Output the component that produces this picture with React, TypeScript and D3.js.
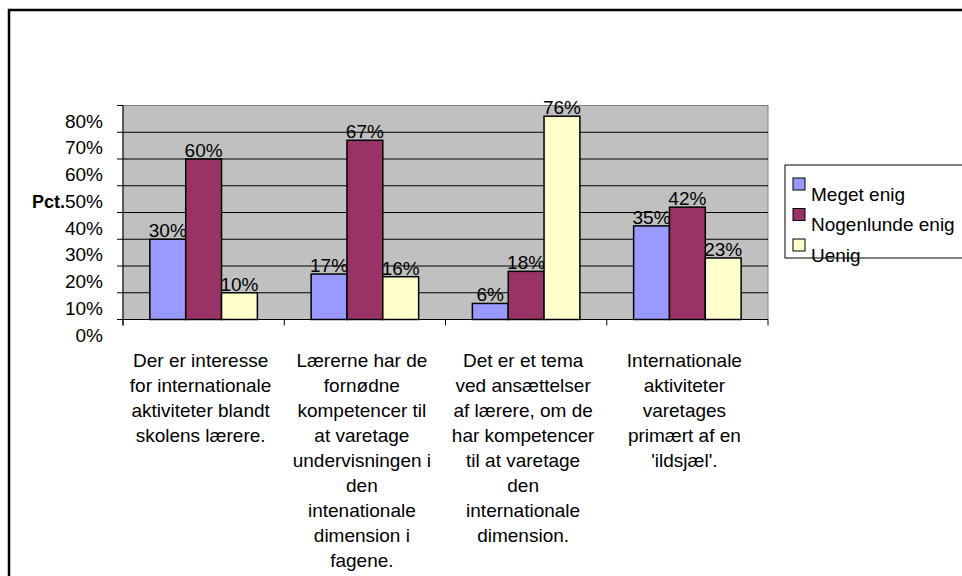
import React, { useEffect, useRef } from 'react'
import * as d3 from 'd3'

const categories = [
  ['Der er interesse', 'for internationale', 'aktiviteter blandt', 'skolens lærere.'],
  ['Lærerne har de', 'fornødne', 'kompetencer til', 'at varetage', 'undervisningen i', 'den', 'intenationale', 'dimension i', 'fagene.'],
  ['Det er et tema', 'ved ansættelser', 'af lærere, om de', 'har kompetencer', 'til at varetage', 'den', 'internationale', 'dimension.'],
  ['Internationale', 'aktiviteter', 'varetages', 'primært af en', "'ildsjæl'."],
]

const seriesNames = ['Meget enig', 'Nogenlunde enig', 'Uenig']
const seriesColors = ['#9999FF', '#993366', '#FFFFCC']

const megetEnig = [30, 17, 6, 35]
const nogenlundeEnig = [60, 67, 18, 42]
const uenig = [10, 16, 76, 23]
const seriesValues = [megetEnig, nogenlundeEnig, uenig]

const yTicks = [0, 10, 20, 30, 40, 50, 60, 70, 80]

const font = 'Arial, "Liberation Sans", sans-serif'
const fontSize = 19

export default function App() {
  const svgRef = useRef<SVGSVGElement>(null)

  useEffect(() => {
    if (!svgRef.current) return
    const svg = d3.select(svgRef.current)
    svg.selectAll('*').remove()

    const left = 123
    const right = 768
    const top = 105.5
    const bottom = 319.5

    // outer chart border
    svg.append('rect')
      .attr('x', 9).attr('y', 10)
      .attr('width', 1000).attr('height', 700)
      .attr('fill', 'white')
      .attr('stroke', 'black')
      .attr('stroke-width', 2.5)

    const x = d3.scaleBand<number>()
      .domain(d3.range(categories.length))
      .range([left, right])
      .paddingInner(0)
      .paddingOuter(0)

    const xInner = d3.scaleBand<number>()
      .domain(d3.range(seriesNames.length))
      .range([0, x.bandwidth()])
      .paddingInner(0)
      .paddingOuter(0.75)

    const y = d3.scaleLinear().domain([0, 80]).range([bottom, top])

    // plot area
    svg.append('rect')
      .attr('x', left).attr('y', top)
      .attr('width', right - left).attr('height', bottom - top)
      .attr('fill', '#C0C0C0')
      .attr('stroke', '#808080')
      .attr('stroke-width', 1)

    svg.append('g')
      .selectAll('line')
      .data(yTicks.filter((t) => t > 0 && t < 80))
      .join('line')
      .attr('x1', left).attr('x2', right)
      .attr('y1', (d) => y(d)).attr('y2', (d) => y(d))
      .attr('stroke', 'black')
      .attr('stroke-width', 1)

    // y axis
    svg.append('line')
      .attr('x1', left).attr('x2', left)
      .attr('y1', top).attr('y2', bottom + 6)
      .attr('stroke', 'black')
    svg.append('g')
      .selectAll('line')
      .data(yTicks)
      .join('line')
      .attr('x1', left - 6).attr('x2', left)
      .attr('y1', (d) => y(d)).attr('y2', (d) => y(d))
      .attr('stroke', 'black')
    svg.append('g')
      .selectAll('text')
      .data(yTicks)
      .join('text')
      .attr('x', 103)
      .attr('y', (d) => y(d) + 15.5)
      .attr('dy', '0.35em')
      .attr('text-anchor', 'end')
      .attr('font-family', font)
      .attr('font-size', fontSize)
      .attr('fill', 'black')
      .text((d) => `${d}%`)

    svg.append('text')
      .attr('x', 32).attr('y', 202)
      .attr('dy', '0.35em')
      .attr('font-family', font)
      .attr('font-size', 18)
      .attr('font-weight', 'bold')
      .text('Pct.')

    // bars
    seriesValues.forEach((vals, s) => {
      const g = svg.append('g')
      g.selectAll('rect')
        .data(vals)
        .join('rect')
        .attr('x', (d, i) => (x(i) || 0) + (xInner(s) || 0))
        .attr('y', (d) => y(d))
        .attr('width', xInner.bandwidth())
        .attr('height', (d) => bottom - y(d))
        .attr('fill', seriesColors[s])
        .attr('stroke', 'black')
        .attr('stroke-width', 1.5)
      g.selectAll('text')
        .data(vals)
        .join('text')
        .attr('x', (d, i) => (x(i) || 0) + (xInner(s) || 0) + xInner.bandwidth() / 2)
        .attr('y', (d) => y(d) - 2)
        .attr('text-anchor', 'middle')
        .attr('font-family', font)
        .attr('font-size', fontSize)
        .attr('fill', 'black')
        .text((d) => `${d}%`)
    })

    // x axis
    svg.append('line')
      .attr('x1', left).attr('x2', right)
      .attr('y1', bottom).attr('y2', bottom)
      .attr('stroke', 'black')
    svg.append('g')
      .selectAll('line')
      .data(d3.range(categories.length + 1))
      .join('line')
      .attr('x1', (d) => left + d * x.step())
      .attr('x2', (d) => left + d * x.step())
      .attr('y1', bottom).attr('y2', bottom + 6)
      .attr('stroke', 'black')

    // category labels
    categories.forEach((lines, i) => {
      const cx = (x(i) || 0) + x.bandwidth() / 2 - 3
      svg.append('text')
        .attr('text-anchor', 'middle')
        .attr('font-family', font)
        .attr('font-size', fontSize)
        .attr('fill', 'black')
        .selectAll('tspan')
        .data(lines)
        .join('tspan')
        .attr('x', cx)
        .attr('y', (d, j) => 360 + j * 25)
        .attr('dy', '0.35em')
        .text((d) => d)
    })

    // legend
    const legend = svg.append('g')
    legend.append('rect')
      .attr('x', 785).attr('y', 165)
      .attr('width', 200).attr('height', 93)
      .attr('fill', 'white')
      .attr('stroke', 'black')
      .attr('stroke-width', 1)
    seriesNames.forEach((name, s) => {
      const sy = 178 + s * 30.5
      legend.append('rect')
        .attr('x', 793).attr('y', sy)
        .attr('width', 12).attr('height', 12)
        .attr('fill', seriesColors[s])
        .attr('stroke', 'black')
        .attr('stroke-width', 1)
      legend.append('text')
        .attr('x', 811).attr('y', sy + 16)
        .attr('dy', '0.35em')
        .attr('font-family', font)
        .attr('font-size', fontSize)
        .attr('fill', 'black')
        .text(name)
    })
  }, [])

  return (
    <svg
      ref={svgRef}
      width={962}
      height={576}
      style={{ position: 'absolute', left: 0, top: 0, background: 'white' }}
    />
  )
}
